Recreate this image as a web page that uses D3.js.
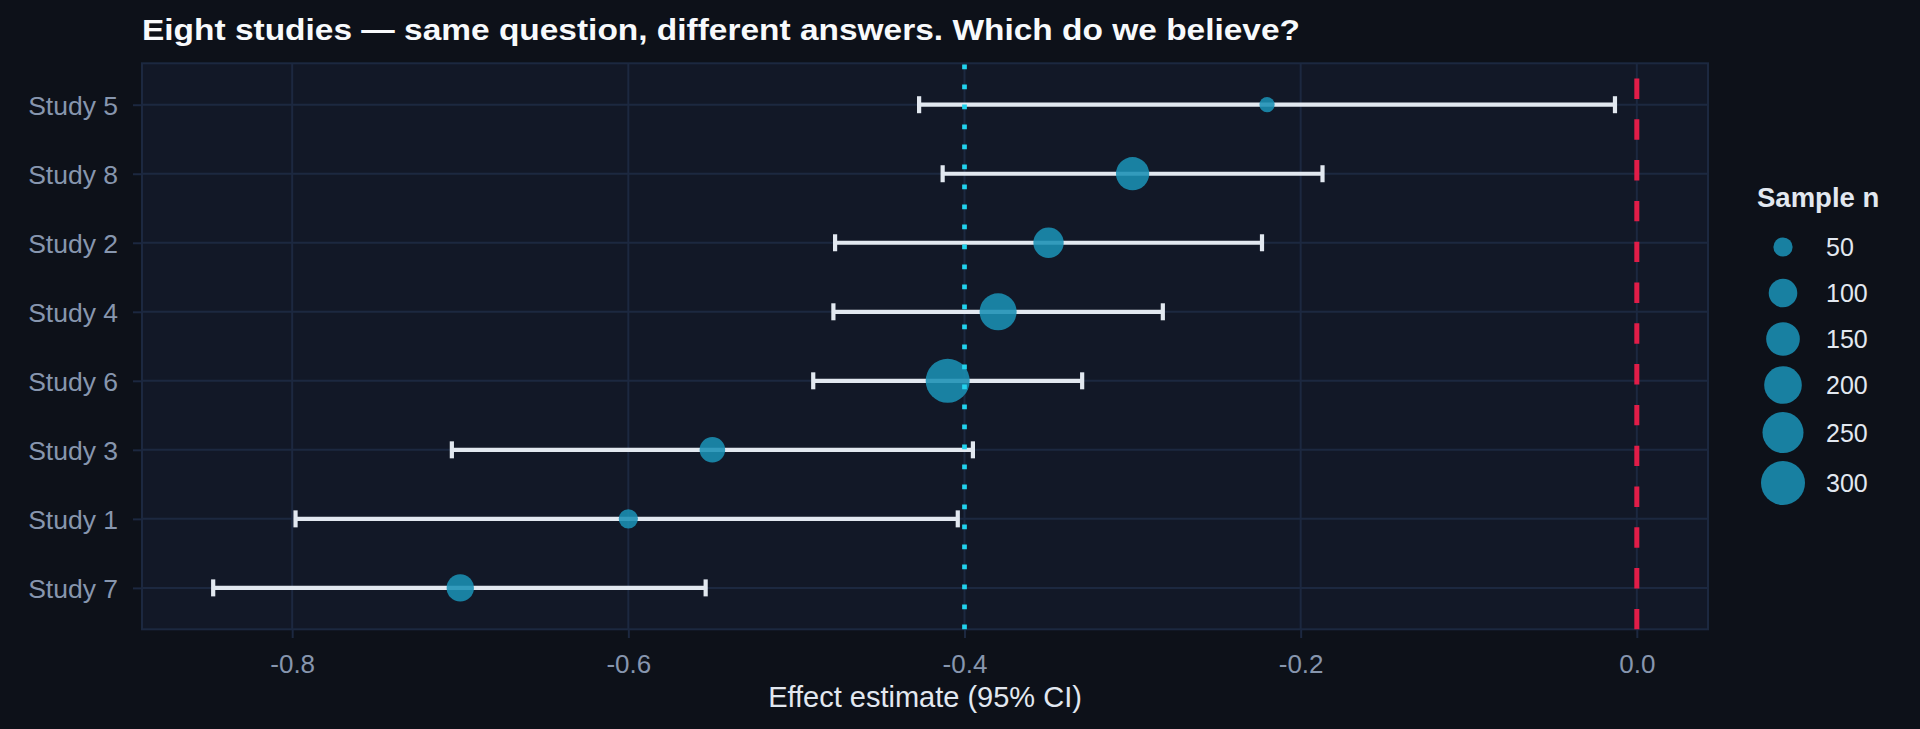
<!DOCTYPE html>
<html>
<head>
<meta charset="utf-8">
<script src="https://cdn.jsdelivr.net/npm/d3@7"></script>
<style>
  body { margin: 0; background: #0d1119; }
  svg { display: block; font-family: "Liberation Sans", Arial, sans-serif; }
</style>
</head>
<body>
<div id="chart"></div>
<script>
// data, top row first
const studies = ["Study 5", "Study 8", "Study 2", "Study 4", "Study 6", "Study 3", "Study 1", "Study 7"]
const estimates = [-0.22, -0.30, -0.35, -0.38, -0.41, -0.55, -0.60, -0.70]
const ciLow = [-0.427, -0.413, -0.477, -0.478, -0.490, -0.705, -0.798, -0.847]
const ciHigh = [-0.013, -0.187, -0.223, -0.282, -0.330, -0.395, -0.404, -0.554]
const sampleN = [45, 145, 115, 192, 300, 78, 50, 90]
const pooled = -0.40
const nullValue = 0
const xTicks = [-0.8, -0.6, -0.4, -0.2, 0.0]
const xTickLabels = ["-0.8", "-0.6", "-0.4", "-0.2", "0.0"]
const legendBreaks = [50, 100, 150, 200, 250, 300]

const width = 1920
const height = 729
const panel = { left: 142, right: 1708, top: 63.3, bottom: 629.3 }

const gridColor = "#1c2840"
const pointColor = "#1a8fb4"
const barColor = "#e2e8f0"

const rows = studies.map((s, i) => ({
    study: s,
    est: estimates[i],
    lo: ciLow[i],
    hi: ciHigh[i],
    n: sampleN[i]
}))

const svg = d3.select("#chart").append("svg")
    .attr("width", width)
    .attr("height", height)

svg.append("rect")
    .attr("width", width)
    .attr("height", height)
    .attr("fill", "#0d1119")

// scales (ggplot style expansion: 5% continuous, 0.6 discrete)
const xMin = d3.min([d3.min(ciLow), nullValue, pooled])
const xMax = d3.max([d3.max(ciHigh), nullValue, pooled])
const xPad = (xMax - xMin) * 0.05
const x = d3.scaleLinear()
    .domain([xMin - xPad, xMax + xPad])
    .range([panel.left, panel.right])

const y = d3.scaleLinear()
    .domain([-0.6, studies.length - 1 + 0.6])
    .range([panel.top, panel.bottom])
const yOf = (s) => y(studies.indexOf(s))

// size: area palette like scale_size
const nMin = d3.min(sampleN)
const nMax = d3.max(sampleN)
const nRescale = d3.scaleLinear().domain([nMin, nMax]).range([0, 1])
const rLinear = d3.scaleLinear().domain([0, 1]).range([7.6, 22])
const radius = (n) => rLinear(Math.sqrt(nRescale(n)))

// panel
svg.append("rect")
    .attr("x", panel.left)
    .attr("y", panel.top)
    .attr("width", panel.right - panel.left)
    .attr("height", panel.bottom - panel.top)
    .attr("fill", "#121827")

svg.append("g")
    .selectAll("line")
    .data(xTicks)
    .join("line")
    .attr("x1", (d) => x(d))
    .attr("x2", (d) => x(d))
    .attr("y1", panel.top)
    .attr("y2", panel.bottom)
    .attr("stroke", gridColor)
    .attr("stroke-width", 2)

svg.append("g")
    .selectAll("line")
    .data(studies)
    .join("line")
    .attr("x1", panel.left)
    .attr("x2", panel.right)
    .attr("y1", (d) => yOf(d))
    .attr("y2", (d) => yOf(d))
    .attr("stroke", gridColor)
    .attr("stroke-width", 2)

svg.append("rect")
    .attr("x", panel.left)
    .attr("y", panel.top)
    .attr("width", panel.right - panel.left)
    .attr("height", panel.bottom - panel.top)
    .attr("fill", "none")
    .attr("stroke", gridColor)
    .attr("stroke-width", 2)

// axes
const xAxis = svg.append("g")
    .attr("transform", `translate(0,${panel.bottom})`)
    .call(d3.axisBottom(x)
        .tickValues(xTicks)
        .tickFormat((d, i) => xTickLabels[i])
        .tickSize(8.7)
        .tickPadding(16.5))
xAxis.select(".domain").remove()
xAxis.selectAll(".tick line").attr("stroke", gridColor).attr("stroke-width", 2)
xAxis.selectAll(".tick text")
    .attr("fill", "#8796ae")
    .attr("font-size", 26)
    .attr("font-family", "Liberation Sans, Arial, sans-serif")

const yAxis = svg.append("g")
    .attr("transform", `translate(${panel.left},0)`)
    .call(d3.axisLeft(d3.scalePoint().domain(studies).range([y(0), y(studies.length - 1)]))
        .tickSize(9)
        .tickPadding(15))
yAxis.select(".domain").remove()
yAxis.selectAll(".tick line").attr("stroke", gridColor).attr("stroke-width", 2)
yAxis.selectAll(".tick text")
    .attr("fill", "#8796ae")
    .attr("font-size", 26.5)
    .attr("dy", "0.36em")
    .attr("font-family", "Liberation Sans, Arial, sans-serif")

// error bars
const bars = svg.append("g")
bars.selectAll("line.ci")
    .data(rows)
    .join("line")
    .attr("class", "ci")
    .attr("x1", (d) => x(d.lo))
    .attr("x2", (d) => x(d.hi))
    .attr("y1", (d) => yOf(d.study))
    .attr("y2", (d) => yOf(d.study))
    .attr("stroke", barColor)
    .attr("stroke-width", 4.2)

const caps = rows.flatMap((d) => [{ v: d.lo, s: d.study }, { v: d.hi, s: d.study }])
bars.selectAll("line.cap")
    .data(caps)
    .join("line")
    .attr("class", "cap")
    .attr("x1", (d) => x(d.v))
    .attr("x2", (d) => x(d.v))
    .attr("y1", (d) => yOf(d.s) - 8.5)
    .attr("y2", (d) => yOf(d.s) + 8.5)
    .attr("stroke", barColor)
    .attr("stroke-width", 4.2)

// points
svg.append("g")
    .selectAll("circle")
    .data(rows)
    .join("circle")
    .attr("cx", (d) => x(d.est))
    .attr("cy", (d) => yOf(d.study))
    .attr("r", (d) => radius(d.n))
    .attr("fill", pointColor)
    .attr("fill-opacity", 0.88)

// reference lines, drawn bottom to top like ggplot
svg.append("line")
    .attr("x1", x(pooled))
    .attr("x2", x(pooled))
    .attr("y1", panel.bottom)
    .attr("y2", panel.top)
    .attr("stroke", "#22d3ee")
    .attr("stroke-width", 4.7)
    .attr("stroke-dasharray", "4.7 15.3")

svg.append("line")
    .attr("x1", x(nullValue))
    .attr("x2", x(nullValue))
    .attr("y1", panel.bottom)
    .attr("y2", panel.top)
    .attr("stroke", "#e11d48")
    .attr("stroke-width", 5)
    .attr("stroke-dasharray", "20.4 20.4")

// titles
svg.append("text")
    .attr("x", panel.left)
    .attr("y", 39.5)
    .attr("fill", "#f8fafc")
    .attr("font-size", 30)
    .attr("font-weight", "bold")
    .attr("textLength", 1158)
    .attr("lengthAdjust", "spacingAndGlyphs")
    .text("Eight studies \u2014 same question, different answers. Which do we believe?")

svg.append("text")
    .attr("x", (panel.left + panel.right) / 2)
    .attr("y", 706.7)
    .attr("text-anchor", "middle")
    .attr("fill", "#e2e8f0")
    .attr("font-size", 29)
    .text("Effect estimate (95% CI)")

// size legend
const legend = svg.append("g")
legend.append("text")
    .attr("x", 1757)
    .attr("y", 207)
    .attr("fill", "#e2e8f0")
    .attr("font-size", 27.5)
    .attr("font-weight", "bold")
    .text("Sample n")

let keyTop = 224
const keys = legendBreaks.map((b) => {
    const h = Math.max(46, 2 * radius(b) + 8)
    const k = { b: b, cy: keyTop + h / 2 }
    keyTop += h
    return k
})

legend.selectAll("circle")
    .data(keys)
    .join("circle")
    .attr("cx", 1783)
    .attr("cy", (d) => d.cy)
    .attr("r", (d) => radius(d.b))
    .attr("fill", pointColor)
    .attr("fill-opacity", 0.88)

legend.selectAll("text.lab")
    .data(keys)
    .join("text")
    .attr("class", "lab")
    .attr("x", 1826)
    .attr("y", (d) => d.cy)
    .attr("dy", "0.36em")
    .attr("fill", "#e2e8f0")
    .attr("font-size", 25)
    .text((d) => d.b)
</script>
</body>
</html>
